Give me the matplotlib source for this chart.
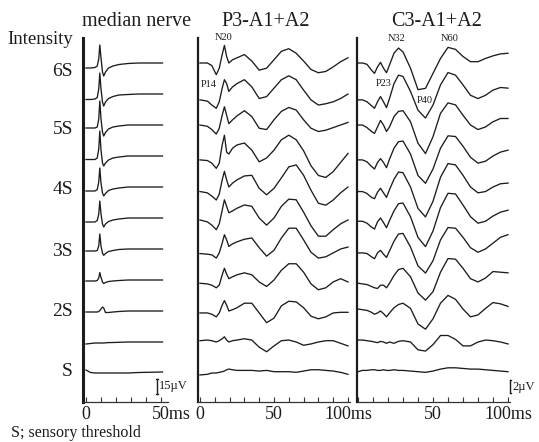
import numpy as np
import matplotlib.pyplot as plt

plt.rcParams['font.family'] = ['Liberation Serif', 'DejaVu Serif']

# ---- data ----
# median nerve (uV), time in ms
t_median = [0, 3, 6, 7.5, 8.5, 9.2, 10, 11, 11.8, 13, 15, 18, 22, 28, 35, 51]
median_traces = [
    [-5, -5, -4.5, -3, 4, 18, 5, -9, -13, -9, -5, -3, -1.5, -0.5, 0, 0],
    [-5.5, -5.5, -5, -3.5, 5, 21, 5, -8, -12, -8, -4.5, -2.5, -1, -0.5, 0, 0],
    [-3, -3, -3, -2, 6, 24, 6, -7, -11, -7.5, -4, -2, -1, 0, 0, 0],
    [-3.5, -3.5, -3.5, -2, 7, 25, 6, -7, -10, -7, -4, -2, -1, 0, 0, 0],
    [-4, -4, -4, -2.5, 5, 19, 4, -6, -9, -6.5, -3.5, -2, -1, 0, 0, 0],
    [-4, -4, -4, -2.5, 4, 17, 4, -6, -9, -6, -3.5, -2, -1, 0, 0, 0],
    [-2, -2, -2, -1.5, 3, 15, 3, -4, -6.3, -4.5, -2.5, -1.5, -0.5, 0, 0, 0],
    [-1, -1, -1, -0.5, 2, 7.5, 2.5, -2, -3.5, -2.5, -1.5, -1, -0.5, 0, 0, 0],
    [-1, -1, -1, -1, -0.5, 0.5, 2, 4, 3, -1.5, -1.5, -1, -0.5, 0, 0, 0],
    [-2, -1.5, -1, -1, -1, -1, -1, -1, -1, -0.8, -0.6, -0.5, -0.3, 0, 0, 0],
    [3, 0.5, 0, 0, 0, 0, 0, 0, 0, 0, 0, 0, 0, 0, 0.5, 1],
]

# P3-A1+A2 (uV)
t_p3 = [0, 5, 8, 11, 13, 15, 16.5, 18, 19.5, 22, 25, 30, 35, 40, 45, 50,
        55, 60, 65, 70, 75, 80, 85, 90, 95, 100]
p3_traces = [
    [0, 0, -0.4, -1.8, -0.8, 1.3, 2.7, 1.0, 0, 0.5, 0.8, 1.3, 0.3, -1.1, -0.8, 0.5, 1.8, 2.2, 1.5, 0.3, -1.0, -1.5, -1.3, -0.6, 0.2, 0.8],
    [-0.9, -1.1, -1.7, -2.2, -1.2, 0.9, 2.2, 1.6, 0.4, 1.1, 1.6, 2.2, 1.1, -0.7, -0.4, 0.9, 2.2, 2.8, 2.2, 0.6, -0.9, -1.7, -1.5, -1.2, -0.7, 0.0],
    [0, -0.2, -0.7, -1.4, -0.5, 1.5, 2.8, 1.5, 0.2, 0.8, 1.4, 2.2, 1.3, -0.5, -0.7, 0.8, 2.1, 2.7, 2.3, 0.8, -0.5, -1.0, -0.8, -0.4, 0.0, 0.4],
    [-0.6, -0.7, -1.1, -1.9, -1.1, 1.7, 3.2, 0.6, 0.3, 1.2, 1.7, 2.0, 0.9, -0.9, -0.3, 0.9, 2.5, 3.2, 2.5, 0.8, -1.5, -3.0, -3.3, -2.4, -1.0, 0.4],
    [-0.7, -0.9, -1.4, -2.0, -1.1, 1.1, 2.4, 1.1, 0, 0.6, 1.1, 1.7, 1.8, -0.2, -1.2, -0.2, 1.4, 3.1, 3.4, 1.8, -0.5, -2.5, -2.8, -2.0, -0.9, 0],
    [-0.3, -0.6, -1.1, -1.8, -0.9, 1.2, 2.8, 1.8, 0.8, 1.1, 1.5, 2.0, 1.8, 0, -1.1, 0, 1.8, 2.9, 2.8, 0.9, -1.2, -2.8, -2.8, -1.8, -0.9, -0.3],
    [-0.7, -0.8, -0.9, -1.4, -0.6, 0.9, 2.2, 1.4, 0.4, 0.8, 1.1, 1.5, 1.7, 0.2, -1.1, -0.2, 1.7, 3.2, 3.2, 1.4, -0.5, -1.4, -1.2, -0.6, 0, 0.3],
    [-0.5, -0.6, -0.8, -1.2, -0.8, 0.8, 1.8, 0.9, 0.2, 0.5, 0.8, 1.1, 0.8, -0.3, -1.0, 0, 1.5, 2.5, 2.5, 1.2, -0.6, -1.5, -1.2, -0.3, 0.2, -0.3],
    [-0.3, -0.3, -0.5, -0.9, -0.3, 0.9, 1.6, 0.9, 0, 0.2, 0.5, 1.2, 1.2, -0.3, -1.8, -1.1, 0.8, 1.5, 1.4, 0.5, -0.8, -1.2, -0.9, -0.3, -0.2, -0.2],
    [0.2, 0.3, 0.2, 0, 0.2, 0.5, 0.8, 0.3, 0, 0.2, 0.3, 0.5, 0.3, -0.8, -1.5, -0.6, 0.2, 0.3, 0, -0.5, -0.3, 0, 0.2, 0.2, -0.2, -0.6],
    [-0.3, -0.2, 0, 0, 0.1, 0.2, 0.3, 0.5, 0.6, 0.5, 0.4, 0.4, 0.4, 0.3, 0.4, 0.2, 0.2, 0.2, 0.1, 0.3, 0.5, 0.5, 0.4, 0.3, 0.1, -0.2],
]

# C3-A1+A2 (uV)
t_c3 = [0, 3, 6, 9, 11, 13, 15, 17, 19, 21, 24, 27, 30, 35, 40, 45, 50,
        55, 60, 65, 70, 75, 80, 85, 90, 95, 100]
c3_traces = [
    [0, 0, -0.2, -1.1, -1.6, -0.6, 0.1, -0.8, -1.5, -0.3, 1.5, 2.3, 1.7, -0.8, -4.1, -3.9, -1.6, 0.7, 2.4, 2.1, 1.0, 0.2, 0.2, 0.7, 1.1, 1.4, 1.5],
    [-0.9, -0.9, -1.2, -1.8, -2.2, -1.2, -0.4, -1.2, -2.1, -0.7, 1.6, 2.9, 2.7, 0.4, -2.5, -3.7, -1.7, 1.4, 3.3, 2.9, 1.4, -0.2, -0.7, -0.2, 0.6, 1.0, 0.9],
    [0, 0, -0.4, -1.0, -1.3, -0.3, 0.7, 0, -1.0, -0.3, 1.3, 2.1, 2.2, 0.5, -2.8, -4.4, -1.8, 1.8, 3.4, 3.1, 1.5, 0, -0.7, -0.3, 0.5, 1.0, 1.0],
    [-0.6, -0.6, -0.9, -1.6, -2.0, -1.0, -0.4, -1.0, -1.8, -0.5, 1.2, 2.2, 2.3, 0.3, -3.0, -4.2, -2.0, 1.2, 3.1, 3.0, 1.5, -0.2, -1.1, -0.8, 0, 0.6, 0.9],
    [-0.7, -0.7, -1.0, -1.6, -1.8, -0.8, -0.2, -0.9, -1.6, -0.4, 1.2, 2.3, 2.2, 0, -3.3, -4.6, -2.2, 1.5, 3.6, 3.4, 1.8, 0, -0.9, -0.7, 0, 0.5, 0.6],
    [-0.5, -0.5, -0.8, -1.4, -1.7, -0.6, 0, -0.7, -1.5, -0.4, 1.1, 2.2, 2.3, 0.2, -3.0, -4.4, -2.0, 1.6, 3.8, 3.7, 2.0, 0.2, -0.8, -0.5, 0.3, 0.9, 1.2],
    [-0.6, -0.6, -0.7, -1.2, -1.5, -0.6, -0.2, -0.8, -1.3, -0.3, 1.2, 2.3, 2.4, 0.3, -2.6, -3.7, -1.8, 1.4, 3.3, 3.2, 1.8, 0.2, -0.5, 0, 0.9, 1.8, 2.2],
    [-0.5, -0.6, -0.7, -1.0, -1.2, -1.3, -0.8, -0.8, -1.2, -0.5, 0.7, 1.6, 1.8, 0.5, -2.0, -3.1, -1.8, 1.2, 3.3, 3.2, 1.8, 0.2, -0.3, 0.3, 1.3, 1.2, 1.1],
    [0.3, 0.2, 0.1, -0.2, -0.5, -0.3, 0, -0.4, -0.9, -0.3, 0.5, 1.0, 1.2, 0.4, -2.0, -2.8, -1.2, 1.2, 2.4, 1.8, 0.3, -0.9, -0.6, 0.4, 1.3, 1.1, 0.7],
    [0.3, 0.3, 0.2, 0.1, 0, -0.1, 0.1, 0, -0.2, 0, -0.2, 0.1, 0.2, 0, -1.2, -1.4, -0.4, 1.0, 1.0, 0.4, -0.6, -0.6, 0, 0.3, 0.2, 0, -0.3],
    [0.2, 0.4, 0.4, 0.5, 0.5, 0.4, 0.4, 0.5, 0.4, 0.4, 0.5, 0.4, 0.4, 0.3, 0.2, 0.1, 0.3, 0.6, 0.8, 0.8, 0.7, 0.6, 0.6, 0.5, 0.4, 0.3, 0.2],
]

intensity_labels = ['6S', '5S', '4S', '3S', '2S', 'S']

# ---- layout (pixels of the 539x442 picture) ----
W, H = 539, 442
TOP, BOTTOM = 38, 402          # vertical extent of the panels
BASE0, STEP = 63, 31           # first trace baseline, spacing between traces
INK = '#1c1c1c'
FS_TICK = 13

fig = plt.figure(figsize=(W / 100, H / 100), dpi=100)


def fx(x):
    return x / W


def fy(y):
    return 1 - y / H


def make_panel(left, right, t_left, t_right, gain, ticks, spine_lw):
    ax = fig.add_axes([fx(left), fy(BOTTOM), (right - left) / W, (BOTTOM - TOP) / H])
    ax.set_xlim(t_left, t_right)
    ax.set_ylim(-(BOTTOM - BASE0) / gain, (BASE0 - TOP) / gain)
    ax.patch.set_alpha(0)
    for s in ['top', 'right']:
        ax.spines[s].set_visible(False)
    ax.spines['left'].set_linewidth(spine_lw)
    ax.spines['left'].set_color(INK)
    ax.spines['bottom'].set_linewidth(0.9)
    ax.spines['bottom'].set_color('#333333')
    ax.set_xticks(ticks)
    ax.set_xticklabels([])
    ax.set_yticks([])
    ax.tick_params(axis='x', direction='in', length=3.5, width=0.8, color='#333333')
    return ax


def draw_traces(ax, t, traces, gain):
    for k, tr in enumerate(traces):
        y = np.array(tr) - k * STEP / gain
        ax.plot(t, y, color=INK, lw=0.95, solid_joinstyle='round')


def bottom_label(ax, x, text, num=None):
    # num given: keep that number centred on its tick, unit trailing right
    if num is None:
        ax.annotate(text, xy=(x, 0), xycoords=('data', 'axes fraction'),
                    xytext=(0, -3), textcoords='offset points',
                    ha='center', va='top', fontsize=FS_TICK, color=INK)
        return
    w = 0.5 * FS_TICK * len(num)
    ax.annotate(text, xy=(x, 0), xycoords=('data', 'axes fraction'),
                xytext=(-w / 2, -3), textcoords='offset points',
                ha='left', va='top', fontsize=FS_TICK, color=INK)


g_med, g_ep = 1.0, 6.5   # px per uV

ax_m = make_panel(83, 168, (83 - 86) / 1.5, (168 - 86) / 1.5, g_med, range(0, 51, 10), 2.2)
ax_p = make_panel(198, 350, (198 - 200) / 1.48, (350 - 200) / 1.48, g_ep, range(0, 101, 10), 1.6)
ax_c = make_panel(357, 510, (357 - 358) / 1.5, (510 - 358) / 1.5, g_ep, range(0, 101, 10), 1.6)

draw_traces(ax_m, t_median, median_traces, g_med)
draw_traces(ax_p, t_p3, p3_traces, g_ep)
draw_traces(ax_c, t_c3, c3_traces, g_ep)

bottom_label(ax_m, 0, '0')
bottom_label(ax_m, 50, '50ms', '50')
bottom_label(ax_p, 0, '0')
bottom_label(ax_p, 50, '50')
bottom_label(ax_p, 100, '100ms')
bottom_label(ax_c, 50, '50')
bottom_label(ax_c, 100, '100ms')

# titles
fig.text(fx(137), fy(21), 'median nerve', ha='center', va='center', fontsize=14.5, color=INK)
fig.text(fx(266), fy(21), 'P3-A1+A2', ha='center', va='center', fontsize=14.5, color=INK)
fig.text(fx(437), fy(21), 'C3-A1+A2', ha='center', va='center', fontsize=14.5, color=INK)

# intensity labels
fig.text(fx(73), fy(40), 'Intensity', ha='right', va='center', fontsize=13.5, color=INK)
label_y = [72, 129, 190, 252, 312, 372]
for lab, yy in zip(intensity_labels, label_y):
    fig.text(fx(73), fy(yy), lab, ha='right', va='center', fontsize=14, color=INK)

# peak names
for ax, name, t, ypx in [(ax_p, 'N20', 16, 37), (ax_p, 'P14', 6, 84),
                         (ax_c, 'N32', 26, 38), (ax_c, 'N60', 61, 38),
                         (ax_c, 'P23', 17, 83), (ax_c, 'P40', 44.5, 100)]:
    ax.text(t, -(ypx - BASE0) / g_ep, name, ha='center', va='center',
            fontsize=7.5, color=INK, clip_on=False)


# calibration bars
def cal_bar(ax, x, y_bottom_px, size, gain, text, both_sides, tick):
    y0 = -(y_bottom_px - BASE0) / gain
    y1 = y0 + size
    ax.plot([x, x], [y0, y1], color=INK, lw=1.0, clip_on=False)
    left = -tick if both_sides else 0
    for yy in (y0, y1):
        ax.plot([x + left, x + tick], [yy, yy], color=INK, lw=0.9, clip_on=False)
    ax.text(x + tick * 1.6, (y0 + y1) / 2, text, ha='left', va='center',
            fontsize=9, color=INK, clip_on=False)


cal_bar(ax_m, (157 - 86) / 1.5, 394, 15, g_med, '15µV', True, 0.8)
cal_bar(ax_c, (510 - 358) / 1.5, 393, 2, g_ep, '2µV', False, 0.9)

fig.text(fx(11), fy(433), 'S; sensory threshold', ha='left', va='center', fontsize=11.5, color=INK)

fig.savefig('out.png', dpi=100)
